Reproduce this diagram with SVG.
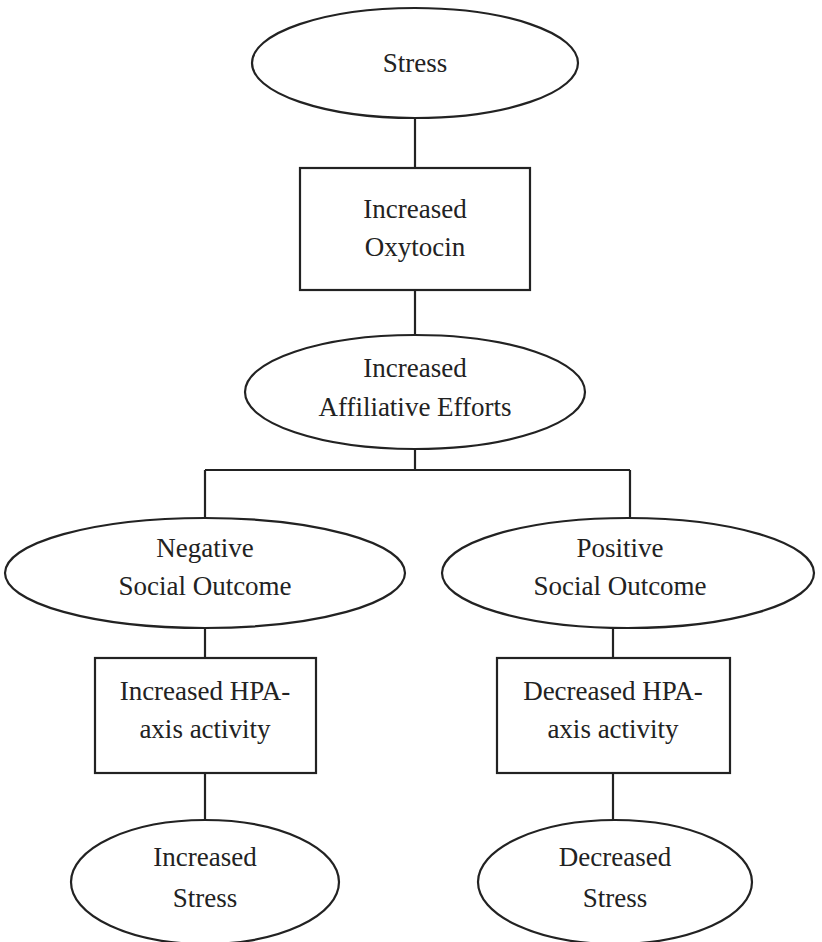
<svg xmlns="http://www.w3.org/2000/svg" width="822" height="942" viewBox="0 0 822 942">
<style>
.s{fill:#fff;stroke:#222;stroke-width:2.2}
.c{stroke:#222;stroke-width:2.2;fill:none}
text{font-family:"Liberation Serif",serif;font-size:27px;fill:#222;text-anchor:middle}
</style>
<rect width="822" height="942" fill="#fff"/>
<g id="connectors">
<path class="c" d="M415 118V168M415 290V335M415 448V470M205 470H630M205 470V518M630 470V518M205 628V658M613 628V658M205 773V822M613 773V822"/>
</g>
<g id="stress"><ellipse class="s" cx="415" cy="63" rx="163" ry="55"/><text x="415" y="72">Stress</text></g>
<g id="oxytocin"><rect class="s" x="300" y="168" width="230" height="122"/><text x="415" y="218">Increased</text><text x="415" y="256">Oxytocin</text></g>
<g id="affiliative"><ellipse class="s" cx="415" cy="392" rx="170" ry="57"/><text x="415" y="377">Increased</text><text x="415" y="416">Affiliative Efforts</text></g>
<g id="negative"><ellipse class="s" cx="205" cy="573" rx="200" ry="55"/><text x="205" y="557">Negative</text><text x="205" y="595">Social Outcome</text></g>
<g id="positive"><ellipse class="s" cx="628" cy="573" rx="186" ry="55"/><text x="620" y="557">Positive</text><text x="620" y="595">Social Outcome</text></g>
<g id="incHPA"><rect class="s" x="95" y="658" width="221" height="115"/><text x="205" y="700">Increased HPA-</text><text x="205" y="738">axis activity</text></g>
<g id="decHPA"><rect class="s" x="497" y="658" width="233" height="115"/><text x="613" y="700">Decreased HPA-</text><text x="613" y="738">axis activity</text></g>
<g id="incStress"><ellipse class="s" cx="205" cy="882" rx="134" ry="62"/><text x="205" y="866">Increased</text><text x="205" y="907">Stress</text></g>
<g id="decStress"><ellipse class="s" cx="615" cy="882" rx="137" ry="62"/><text x="615" y="866">Decreased</text><text x="615" y="907">Stress</text></g>
</svg>
